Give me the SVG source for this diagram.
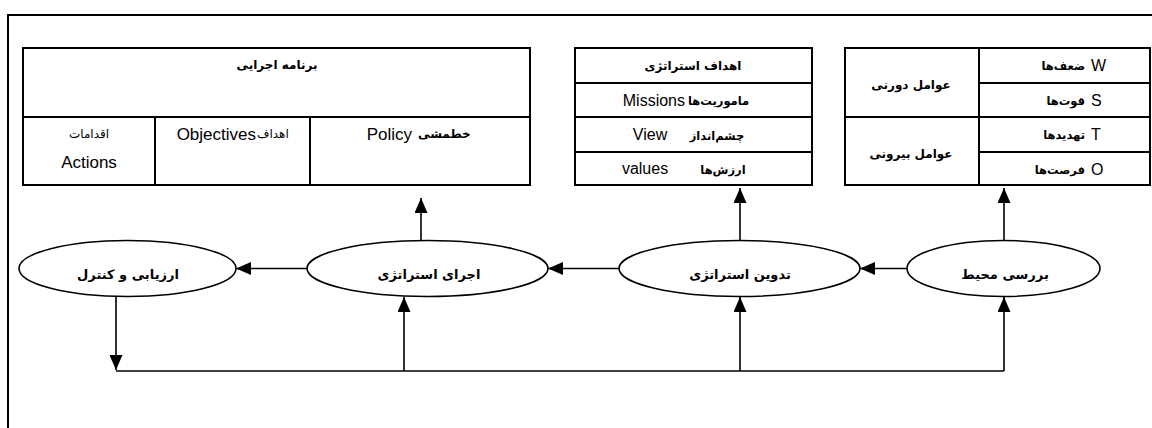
<svg xmlns="http://www.w3.org/2000/svg" width="1152" height="428" viewBox="0 0 1152 428">
<defs>
<style>
.box{fill:none;stroke:#000;stroke-width:2}
.ln{fill:none;stroke:#000;stroke-width:2}
.el{fill:#fff;stroke:#000;stroke-width:1.6}
.con{fill:none;stroke:#000;stroke-width:1.6}
.fa{font-family:"DejaVu Sans","Noto Sans",sans-serif;font-size:12px;font-weight:bold;fill:#000}
.fs{font-family:"DejaVu Sans","Noto Sans",sans-serif;font-size:11.5px;font-weight:bold;fill:#000}
.fan{font-family:"DejaVu Sans","Noto Sans",sans-serif;font-size:12px;fill:#000}
.fe{font-family:"DejaVu Sans","Noto Sans",sans-serif;font-size:13px;font-weight:bold;fill:#000}
.la{font-family:"Liberation Sans",Arial,sans-serif;font-size:16px;fill:#000}
.lb{font-family:"Liberation Sans",Arial,sans-serif;font-size:17px;fill:#000}
</style>
<marker id="ah" markerWidth="15" markerHeight="13" refX="15" refY="6.5" orient="auto" markerUnits="userSpaceOnUse">
<path d="M0,0 L15,6.5 L0,13 z" fill="#000"/>
</marker>
</defs>
<rect width="1152" height="428" fill="#fff"/>
<rect id="frame" x="8" y="15" width="1160" height="430" class="box"/>

<g id="program">
<rect x="23" y="48" width="507" height="137" class="box"/>
<line x1="23" y1="117" x2="530" y2="117" class="ln"/>
<line x1="155" y1="117" x2="155" y2="185" class="ln"/>
<line x1="310" y1="117" x2="310" y2="185" class="ln"/>
<text x="277" y="69" class="fa" text-anchor="middle" direction="rtl">برنامه اجرایی</text>
<text x="89" y="138" class="fan" text-anchor="middle" direction="rtl">اقدامات</text>
<text x="89" y="168" class="lb" text-anchor="middle">Actions</text>
<text x="256" y="140" class="lb" text-anchor="end">Objectives</text>
<text x="257" y="138" class="fan" text-anchor="start" direction="ltr">اهداف</text>
<text x="412" y="140" class="lb" text-anchor="end">Policy</text>
<text x="418" y="138" class="fa" text-anchor="start" direction="ltr">خطمشی</text>
</g>

<g id="goals">
<rect x="575" y="48" width="237" height="137" class="box"/>
<line x1="575" y1="83" x2="812" y2="83" class="ln"/>
<line x1="575" y1="117" x2="812" y2="117" class="ln"/>
<line x1="575" y1="152" x2="812" y2="152" class="ln"/>
<text x="693" y="70" class="fa" text-anchor="middle" direction="rtl">اهداف استراتژی</text>
<text x="685" y="106" class="la" text-anchor="end">Missions</text>
<text x="688" y="105" class="fs" text-anchor="start" direction="ltr">ماموریت‌ها</text>
<text x="650" y="140" class="la" text-anchor="middle">View</text>
<text x="717" y="140" class="fs" text-anchor="middle" direction="rtl">چشم‌انداز</text>
<text x="645" y="174" class="la" text-anchor="middle">values</text>
<text x="723" y="174" class="fs" text-anchor="middle" direction="rtl">ارزش‌ها</text>
</g>

<g id="factors">
<rect x="845" y="48" width="305" height="137" class="box"/>
<line x1="979" y1="48" x2="979" y2="185" class="ln"/>
<line x1="845" y1="117" x2="1150" y2="117" class="ln"/>
<line x1="979" y1="83" x2="1150" y2="83" class="ln"/>
<line x1="979" y1="152" x2="1150" y2="152" class="ln"/>
<text x="911" y="89" class="fa" text-anchor="middle" direction="rtl">عوامل دورنی</text>
<text x="911" y="158" class="fa" text-anchor="middle" direction="rtl">عوامل بیرونی</text>
<text x="1085" y="70" class="fs" text-anchor="end" direction="ltr">ضعف‌ها</text>
<text x="1091" y="71" class="la" text-anchor="start">W</text>
<text x="1085" y="105" class="fs" text-anchor="end" direction="ltr">قوت‌ها</text>
<text x="1091" y="106" class="la" text-anchor="start">S</text>
<text x="1085" y="139" class="fs" text-anchor="end" direction="ltr">تهدیدها</text>
<text x="1091" y="140" class="la" text-anchor="start">T</text>
<text x="1085" y="174" class="fs" text-anchor="end" direction="ltr">فرصت‌ها</text>
<text x="1091" y="175" class="la" text-anchor="start">O</text>
</g>

<g id="connectors">
<line x1="907" y1="268.5" x2="860" y2="268.5" class="con" marker-end="url(#ah)"/>
<line x1="619" y1="268.5" x2="548" y2="268.5" class="con" marker-end="url(#ah)"/>
<line x1="307" y1="268.5" x2="236" y2="268.5" class="con" marker-end="url(#ah)"/>
<line x1="1004" y1="240.5" x2="1004" y2="188" class="con" marker-end="url(#ah)"/>
<line x1="740" y1="240.5" x2="740" y2="188" class="con" marker-end="url(#ah)"/>
<line x1="421" y1="240.5" x2="421" y2="198" class="con" marker-end="url(#ah)"/>
<line x1="116" y1="296" x2="116" y2="370" class="con" marker-end="url(#ah)"/>
<line x1="116" y1="371" x2="1004" y2="371" class="con"/>
<line x1="404" y1="371" x2="404" y2="297" class="con" marker-end="url(#ah)"/>
<line x1="740" y1="371" x2="740" y2="297" class="con" marker-end="url(#ah)"/>
<line x1="1004" y1="371" x2="1004" y2="297" class="con" marker-end="url(#ah)"/>
</g>

<g id="evaluate">
<ellipse cx="127.5" cy="268.5" rx="108.5" ry="28" class="el"/>
<text x="128" y="279" class="fe" text-anchor="middle" direction="rtl">ارزیابی و کنترل</text>
</g>
<g id="implement">
<ellipse cx="427.5" cy="268.5" rx="120.5" ry="28" class="el"/>
<text x="429" y="279" class="fe" text-anchor="middle" direction="rtl">اجرای استراتژی</text>
</g>
<g id="formulate">
<ellipse cx="739.5" cy="268.5" rx="120.5" ry="28" class="el"/>
<text x="740" y="279" class="fe" text-anchor="middle" direction="rtl">تدوین استراتژی</text>
</g>
<g id="scan">
<ellipse cx="1003.5" cy="268.5" rx="96.5" ry="28" class="el"/>
<text x="1005" y="279" class="fe" text-anchor="middle" direction="rtl">بررسی محیط</text>
</g>
</svg>
